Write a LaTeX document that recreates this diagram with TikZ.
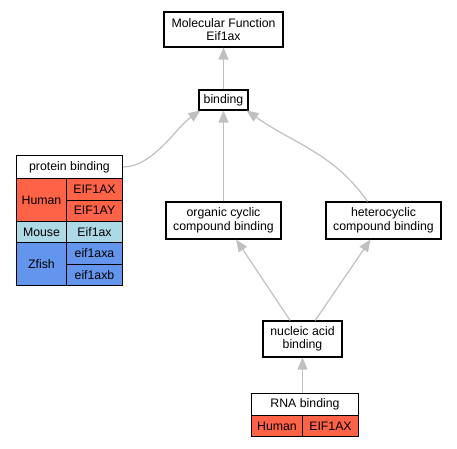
\documentclass[tikz,border=0pt]{standalone}
\usepackage{fontspec}
\setmainfont{Liberation Sans}
\usetikzlibrary{arrows.meta,positioning}
\definecolor{human}{HTML}{FF6347}
\definecolor{mouse}{HTML}{ADD8E6}
\definecolor{zfish}{HTML}{6495ED}
\definecolor{edgegrey}{HTML}{C0C0C0}
\tikzset{
  term/.style={draw, line width=1.1pt, fill=white, align=center, inner sep=2pt},
  cell/.style={draw, line width=1pt, anchor=north west, inner sep=0pt, align=center},
  isa/.style={draw=edgegrey, line width=1.2pt, -{Triangle[length=12pt,width=10pt]}, edgegrey}
}
\begin{document}
\begin{tikzpicture}[x=1pt, y=-1pt, font=\fontsize{12.3}{13.5}\selectfont]
  \useasboundingbox (0,0) rectangle (457,448);
  % GO terms
  \node [term, minimum width=119pt, minimum height=35pt] (mf) at (223.5,29.5) {Molecular Function\\Eif1ax};
  \node [term, minimum width=49pt, minimum height=20pt] (binding) at (223.5,100) {binding};
  \node [term, minimum width=115pt, minimum height=37pt] (occb) at (223.5,220.5) {organic cyclic\\compound binding};
  \node [term, minimum width=115pt, minimum height=37pt] (hccb) at (383.5,220.5) {heterocyclic\\compound binding};
  \node [term, minimum width=79pt, minimum height=36pt] (nab) at (302.5,339) {nucleic acid\\binding};
  % protein binding table
  \node [cell, fill=white, minimum width=106pt, minimum height=23pt] (ptitle) at (16,155) {protein binding};
  \node [cell, fill=human, minimum width=50pt, minimum height=43pt] (phuman) at (16,178) {Human};
  \node [cell, fill=human, minimum width=56pt, minimum height=21.5pt] (peifax) at (66,178) {EIF1AX};
  \node [cell, fill=human, minimum width=56pt, minimum height=21.5pt] (peifay) at (66,199.5) {EIF1AY};
  \node [cell, fill=mouse, minimum width=50pt, minimum height=21pt] (pmouse) at (16,221) {Mouse};
  \node [cell, fill=mouse, minimum width=56pt, minimum height=21pt] (pmeif) at (66,221) {Eif1ax};
  \node [cell, fill=zfish, minimum width=50pt, minimum height=43pt] (pzfish) at (16,242) {Zfish};
  \node [cell, fill=zfish, minimum width=56pt, minimum height=21.5pt] (pzfa) at (66,242) {eif1axa};
  \node [cell, fill=zfish, minimum width=56pt, minimum height=21.5pt] (pzfb) at (66,263.5) {eif1axb};
  % RNA binding table
  \node [cell, fill=white, minimum width=107pt, minimum height=22pt] (rtitle) at (251,393) {RNA binding};
  \node [cell, fill=human, minimum width=51pt, minimum height=21pt] (rhuman) at (251,415) {Human};
  \node [cell, fill=human, minimum width=56pt, minimum height=21pt] (reif) at (302,415) {EIF1AX};
  % is_a edges
  \draw [isa] (binding) -- (mf);
  \draw [isa] (occb) -- (binding);
  \draw [isa] (ptitle.east) to[out=0, in=-145, looseness=0.8] ([xshift=2pt]binding.south west);
  \draw [isa] ([xshift=-16pt]hccb.north) to[out=125, in=-35] ([xshift=-2pt]binding.south east);
  \draw [isa] (nab) -- (occb);
  \draw [isa] (nab) -- (hccb);
  \draw [isa] (rtitle.north -| nab.south) -- (nab.south);
\end{tikzpicture}
\end{document}
